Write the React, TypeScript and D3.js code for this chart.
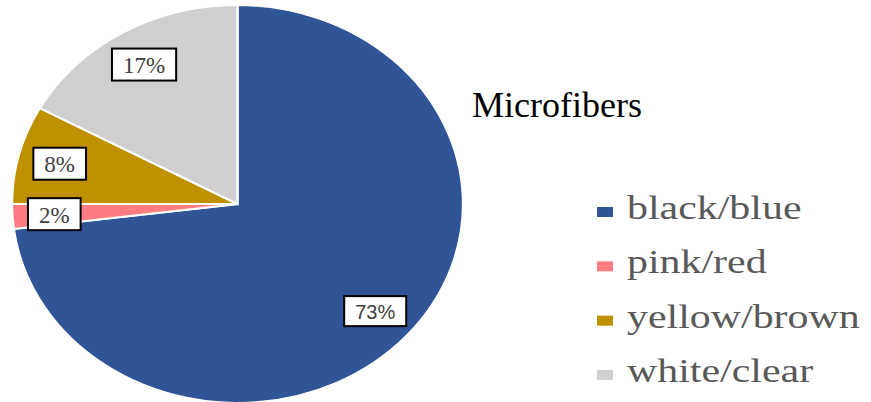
import React from "react";
import * as d3 from "d3";

const categories = ["black/blue", "pink/red", "yellow/brown", "white/clear"];
const values = [73, 2, 8, 17];
const labels = ["73%", "2%", "8%", "17%"];
const colors = ["#2F5597", "#FF7C80", "#BF9000", "#D0CECE"];
const title = "Microfibers";

const W = 871;
const H = 402;
const cx = 237.5;
const cy = 204;
const R = 199;
const sx = 225.5 / 199;

const SERIF = "'Liberation Serif', 'Times New Roman', Tinos, 'DejaVu Serif', serif";
const SANS = "'Liberation Sans', Arial, sans-serif";

function measure(text: string, font: string): number {
  const c = document.createElement("canvas");
  const ctx = c.getContext("2d");
  if (!ctx) return text.length * 12;
  ctx.font = font;
  return ctx.measureText(text).width;
}

export default function App() {
  const pie = d3.pie<number>().sort(null).value((d) => d)(values);
  const arc = d3.arc<d3.PieArcDatum<number>>().innerRadius(0).outerRadius(R);
  const labelArc = d3.arc<d3.PieArcDatum<number>>().innerRadius(162).outerRadius(162);
  const legendY = d3.scalePoint<string>().domain(categories).range([219, 382]);

  return (
    <svg width={W} height={H} style={{ position: "absolute", left: 0, top: 0, background: "#fff" }}>
      <g transform={`translate(${cx},${cy}) scale(${sx},1)`}>
        {pie.map((p, i) => (
          <path key={i} d={arc(p) || ""} fill={colors[i]} stroke="#fff" strokeWidth={2} />
        ))}
      </g>
      {pie.map((p, i) => {
        const [lx, ly] = labelArc.centroid(p);
        const x = cx + lx * sx;
        const y = cy + ly;
        const isSans = i === 0;
        const fs = isSans ? 20 : 23;
        const family = isSans ? SANS : SERIF;
        const tw = measure(labels[i], `${fs}px ${family}`);
        const bw = tw + 22;
        const bh = isSans ? 30 : 32;
        return (
          <g key={i}>
            <rect x={x - bw / 2} y={y - bh / 2} width={bw} height={bh} fill="#fff" stroke="#000" strokeWidth={2} />
            <text
              x={x}
              y={y + 1}
              textAnchor="middle"
              dominantBaseline="central"
              style={{ fontFamily: family, fontSize: fs }}
              fill="#404040"
            >
              {labels[i]}
            </text>
          </g>
        );
      })}
      <text x={472} y={117} style={{ fontFamily: SERIF, fontSize: 36 }} fill="#000">
        {title}
      </text>
      {categories.map((c, i) => {
        const y = legendY(c) as number;
        return (
          <g key={c}>
            <rect x={597} y={y - 12} width={16} height={10} fill={colors[i]} />
            <text
              transform={`translate(627,${y}) scale(1.27,1)`}
              style={{ fontFamily: SERIF, fontSize: 33 }}
              fill="#595959"
            >
              {c}
            </text>
          </g>
        );
      })}
    </svg>
  );
}
